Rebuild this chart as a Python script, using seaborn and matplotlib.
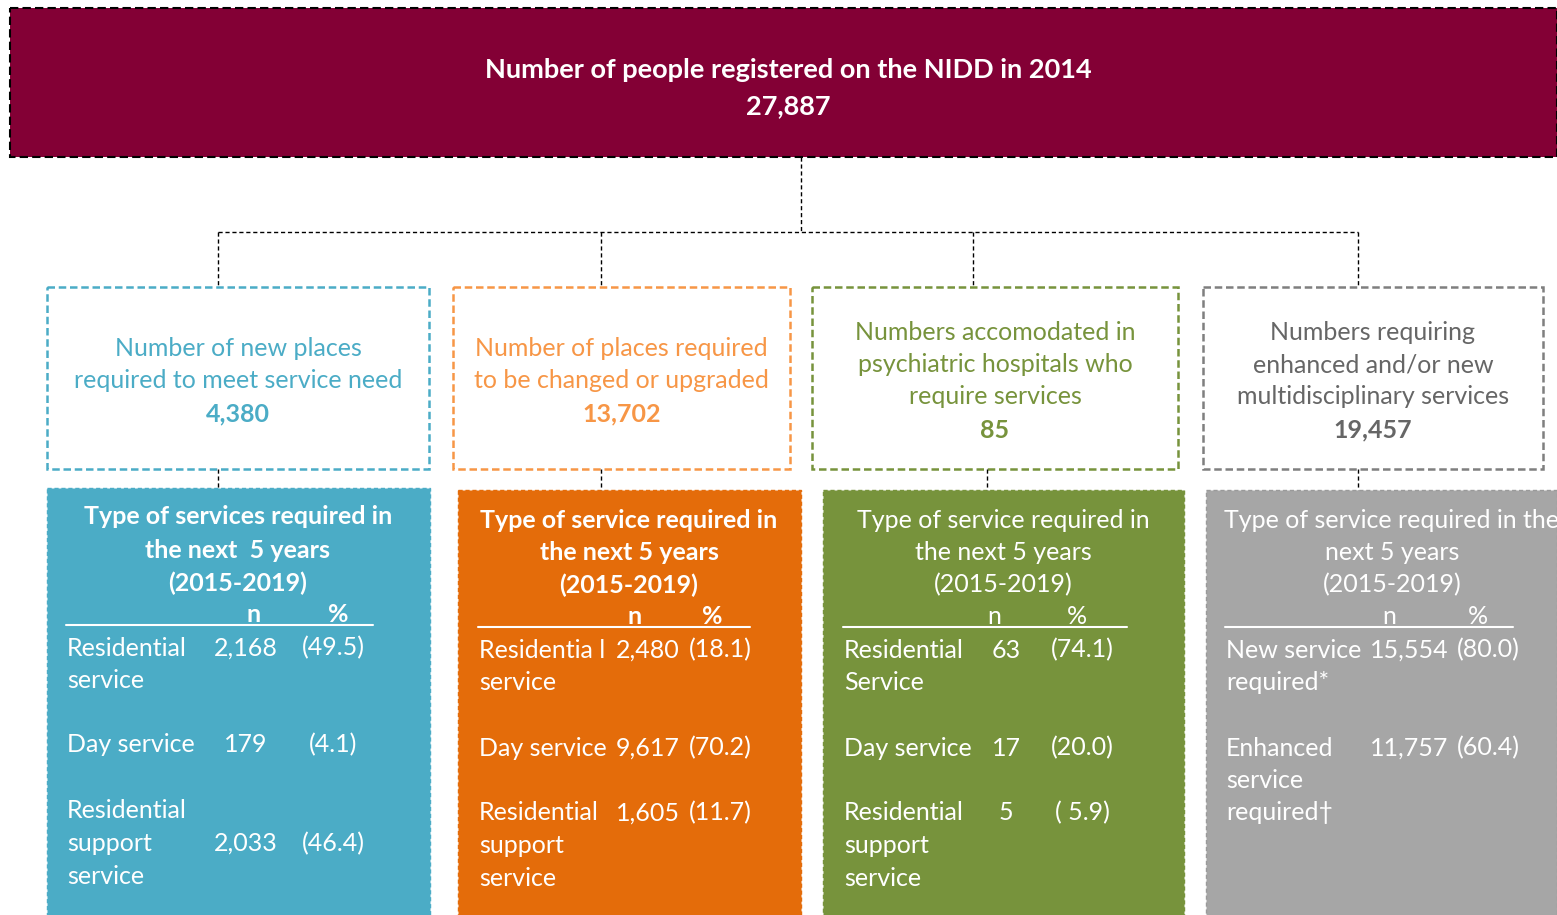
import matplotlib
matplotlib.use("Agg")
import matplotlib.pyplot as plt
from matplotlib.patches import Rectangle
import seaborn as sns

# ---------------- data ----------------
top_title = "Number of people registered on the NIDD in 2014"
top_total = "27,887"

mid_labels = [
    ["Number of new places", "required to meet service need"],
    ["Number of places required", "to be changed or upgraded"],
    ["Numbers accomodated in", "psychiatric hospitals who", "require services"],
    ["Numbers requiring", "enhanced and/or new", "multidisciplinary services"],
]
mid_values = ["4,380", "13,702", "85", "19,457"]

low_titles = [
    ["Type of services required in", "the next  5 years", "(2015-2019)"],
    ["Type of service required in", "the next 5 years", "(2015-2019)"],
    ["Type of service required in", "the next 5 years", "(2015-2019)"],
    ["Type of service required in the", "next 5 years", "(2015-2019)"],
]
low_title_bold = [True, True, False, False]

row_labels = [
    [["Residential", "service"], ["Day service"], ["Residential", "support", "service"]],
    [["Residentia l", "service"], ["Day service"], ["Residential", "support", "service"]],
    [["Residential", "Service"], ["Day service"], ["Residential", "support", "service"]],
    [["New service", "required*"], ["Enhanced", "service", "required\u2020"]],
]
row_n = [
    ["2,168", "179", "2,033"],
    ["2,480", "9,617", "1,605"],
    ["63", "17", "5"],
    ["15,554", "11,757"],
]
row_pct = [
    ["(49.5)", "(4.1)", "(46.4)"],
    ["(18.1)", "(70.2)", "(11.7)"],
    ["(74.1)", "(20.0)", "( 5.9)"],
    ["(80.0)", "(60.4)"],
]

# ---------------- style ----------------
sns.set_theme(style="white")
plt.rcParams["font.family"] = ["Lato", "DejaVu Sans"]

maroon = "#830035"
mid_colors = ["#4BACC6", "#F79646", "#77933C", "#7F7F7F"]
mid_text_colors = ["#4BACC6", "#F79646", "#77933C", "#666666"]
low_colors = ["#4BACC6", "#E46C0A", "#77933C", "#A6A6A6"]

FS = 18
DY = 2  # small vertical nudge for text baseline

fig = plt.figure(figsize=(15.57, 9.15), dpi=100)
ax = fig.add_axes([0, 0, 1, 1])
ax.set_xlim(0, 1557)
ax.set_ylim(915, 0)
ax.axis("off")

# ---------------- layout (pixels) ----------------
# top box
ax.add_patch(Rectangle((10, 8), 1547, 149, facecolor=maroon, edgecolor="black",
                       lw=1.5, ls=(0, (4, 2))))
ax.text(788, 68 + DY, top_title, color="white", fontsize=19.5, fontweight="bold",
        ha="center", va="center")
ax.text(788, 104 + DY, top_total, color="white", fontsize=19.5, fontweight="bold",
        ha="center", va="center")

# connectors
cl = dict(color="black", lw=1, ls=(0, (3, 2)))
ax.plot([801, 801], [157, 232], **cl)
ax.plot([218, 1358], [232, 232], **cl)
mid_boxes = [(47, 429), (453, 790), (812, 1178), (1203, 1543)]
mid_conn_x = [218, 601, 973, 1358]
for x in mid_conn_x:
    ax.plot([x, x], [232, 287], **cl)
low_conn_x = [218, 601, 987, 1358]
low_boxes = [(47, 430, 488), (458, 801, 490), (823, 1184, 490), (1206, 1557, 490)]
for x, (_, _, yt) in zip(low_conn_x, low_boxes):
    ax.plot([x, x], [469, yt], **cl)

# mid boxes
for i, (x0, x1) in enumerate(mid_boxes):
    ax.add_patch(Rectangle((x0, 287), x1 - x0, 182, facecolor="white",
                           edgecolor=mid_colors[i], lw=1.8, ls=(0, (3, 1.5))))
    cx = (x0 + x1) / 2
    lines = mid_labels[i]
    if len(lines) == 2:
        ys = [346, 379]
        yv = 412
    else:
        ys = [330, 363, 395]
        yv = 428
    for t, y in zip(lines, ys):
        ax.text(cx, y + DY, t, color=mid_text_colors[i], fontsize=FS, ha="center", va="center")
    ax.text(cx, yv + DY, mid_values[i], color=mid_text_colors[i], fontsize=FS,
            fontweight="bold", ha="center", va="center")

# lower boxes
title_y = [[515, 548, 581], [518, 550, 583], [518, 550, 583], [518, 550, 583]]
title_cx = [238, 629, 1003, 1392]
hdr_y = [613, 615, 615, 615]
hdr_nx = [254, 635, 994, 1389]
hdr_px = [338, 712, 1077, 1478]
uline = [(66, 373, 625), (478, 750, 627), (843, 1127, 627), (1225, 1513, 627)]
lab_x = [67, 479, 844, 1226]
n_x = [246, 648, 1006, 1409]
p_x = [333, 720, 1082, 1488]
line_h = 32.5
row_start = [[646, 743, 809], [648, 746, 811], [648, 746, 811], [648, 746]]
val_line = [[0, 0, 1], [0, 0, 0], [0, 0, 0], [0, 0]]

for i, (x0, x1, yt) in enumerate(low_boxes):
    ax.add_patch(Rectangle((x0, yt), x1 - x0, 915 - yt + 5, facecolor=low_colors[i],
                           edgecolor="#9a9a9a" if i == 3 else low_colors[i],
                           lw=1, ls=(0, (3, 2))))
    fw = "bold" if low_title_bold[i] else "normal"
    for t, y in zip(low_titles[i], title_y[i]):
        ax.text(title_cx[i], y + DY, t, color="white", fontsize=FS, fontweight=fw,
                ha="center", va="center")
    ax.text(hdr_nx[i], hdr_y[i] + DY, "n", color="white", fontsize=FS, fontweight=fw,
            ha="center", va="center")
    ax.text(hdr_px[i], hdr_y[i] + DY, "%", color="white", fontsize=FS, fontweight=fw,
            ha="center", va="center")
    ux0, ux1, uy = uline[i]
    ax.plot([ux0, ux1], [uy, uy], color="white", lw=1.5)
    for r, lines in enumerate(row_labels[i]):
        y0 = row_start[i][r]
        for k, t in enumerate(lines):
            ax.text(lab_x[i], y0 + k * line_h + DY, t, color="white", fontsize=FS,
                    ha="left", va="center")
        yv = y0 + val_line[i][r] * line_h + DY
        ax.text(n_x[i], yv, row_n[i][r], color="white", fontsize=FS,
                ha="center", va="center")
        ax.text(p_x[i], yv, row_pct[i][r], color="white", fontsize=FS,
                ha="center", va="center")

fig.savefig("out.png", dpi=100)
